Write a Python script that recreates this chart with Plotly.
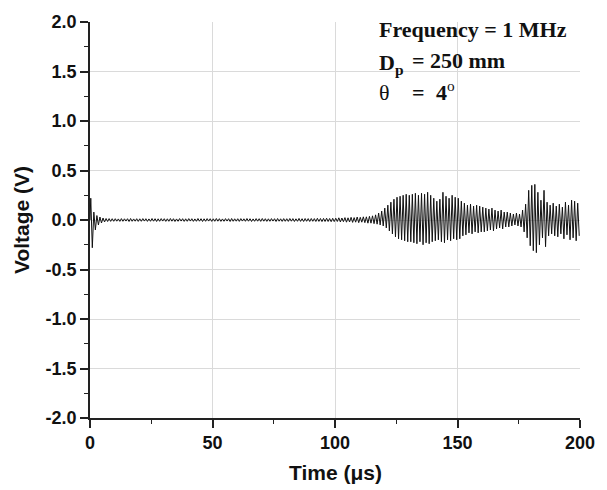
import numpy as np
import plotly.graph_objects as go

# Received ultrasonic signal, recorded as the positive and negative peak of
# each oscillation cycle (8 cycles per 10 us row).
cycle_us = 1.25

pos_peaks = [
    0.22, 0.08, 0.045, 0.030, 0.020, 0.015, 0.014, 0.013,   # 0-10 us
    0.013, 0.011, 0.014, 0.012, 0.013, 0.015, 0.011, 0.013,  # 10-20
    0.012, 0.014, 0.013, 0.011, 0.015, 0.013, 0.012, 0.014,  # 20-30
    0.013, 0.012, 0.015, 0.013, 0.011, 0.014, 0.013, 0.012,  # 30-40
    0.014, 0.013, 0.011, 0.015, 0.013, 0.012, 0.014, 0.013,  # 40-50
    0.012, 0.015, 0.013, 0.011, 0.014, 0.013, 0.015, 0.012,  # 50-60
    0.013, 0.014, 0.012, 0.015, 0.013, 0.011, 0.014, 0.013,  # 60-70
    0.015, 0.013, 0.012, 0.014, 0.013, 0.015, 0.012, 0.014,  # 70-80
    0.013, 0.015, 0.014, 0.012, 0.016, 0.013, 0.015, 0.014,  # 80-90
    0.015, 0.014, 0.017, 0.015, 0.016, 0.018, 0.015, 0.017,  # 90-100
    0.018, 0.022, 0.020, 0.024, 0.022, 0.027, 0.024, 0.030,  # 100-110
    0.027, 0.032, 0.032, 0.037, 0.042, 0.052, 0.070, 0.090,  # 110-120
    0.120, 0.150, 0.180, 0.210, 0.230, 0.240, 0.250, 0.260,  # 120-130
    0.250, 0.260, 0.270, 0.250, 0.270, 0.260, 0.280, 0.250,  # 130-140
    0.220, 0.190, 0.210, 0.280, 0.240, 0.220, 0.250, 0.230,  # 140-150
    0.220, 0.190, 0.170, 0.150, 0.160, 0.140, 0.150, 0.140,  # 150-160
    0.130, 0.120, 0.110, 0.120, 0.100, 0.090, 0.100, 0.080,  # 160-170
    0.080, 0.070, 0.060, 0.070, 0.060, 0.100, 0.160, 0.300,  # 170-180
    0.350, 0.360, 0.280, 0.200, 0.300, 0.180, 0.150, 0.170,  # 180-190
    0.140, 0.160, 0.130, 0.180, 0.150, 0.200, 0.190, 0.170,  # 190-200
]

neg_peaks = [
    -0.28, -0.10, -0.050, -0.030, -0.020, -0.015, -0.014, -0.013,
    -0.012, -0.014, -0.013, -0.011, -0.015, -0.013, -0.012, -0.014,
    -0.013, -0.011, -0.014, -0.013, -0.012, -0.015, -0.013, -0.011,
    -0.014, -0.013, -0.012, -0.015, -0.013, -0.011, -0.014, -0.013,
    -0.011, -0.014, -0.013, -0.012, -0.015, -0.013, -0.011, -0.014,
    -0.013, -0.012, -0.014, -0.013, -0.011, -0.015, -0.013, -0.012,
    -0.014, -0.011, -0.013, -0.012, -0.015, -0.013, -0.012, -0.014,
    -0.012, -0.014, -0.013, -0.011, -0.015, -0.012, -0.014, -0.013,
    -0.014, -0.012, -0.015, -0.013, -0.014, -0.015, -0.013, -0.015,
    -0.013, -0.015, -0.014, -0.016, -0.015, -0.015, -0.017, -0.016,
    -0.015, -0.020, -0.017, -0.022, -0.020, -0.024, -0.022, -0.027,
    -0.022, -0.027, -0.032, -0.032, -0.037, -0.042, -0.050, -0.060,
    -0.080, -0.110, -0.140, -0.170, -0.190, -0.200, -0.210, -0.220,
    -0.220, -0.230, -0.240, -0.220, -0.250, -0.230, -0.240, -0.220,
    -0.210, -0.200, -0.220, -0.230, -0.200, -0.210, -0.190, -0.200,
    -0.190, -0.160, -0.150, -0.130, -0.140, -0.120, -0.130, -0.120,
    -0.120, -0.110, -0.100, -0.110, -0.090, -0.080, -0.090, -0.070,
    -0.070, -0.060, -0.050, -0.060, -0.070, -0.120, -0.180, -0.260,
    -0.310, -0.330, -0.250, -0.180, -0.270, -0.160, -0.140, -0.160,
    -0.170, -0.140, -0.190, -0.150, -0.200, -0.180, -0.210, -0.160,
]

x_ticks = [0, 50, 100, 150, 200]
y_ticks = [-2.0, -1.5, -1.0, -0.5, 0.0, 0.5, 1.0, 1.5, 2.0]

# interleave positive and negative half-cycles on the sampling grid
n = len(pos_peaks)
k = np.arange(n)
t_pos = k * cycle_us + cycle_us * 0.25
t_neg = k * cycle_us + cycle_us * 0.75
time = np.concatenate([[0.0], np.column_stack([t_pos, t_neg]).ravel()])
volt = np.concatenate([[0.0], np.column_stack([pos_peaks, neg_peaks]).ravel()])

fig = go.Figure()
fig.add_trace(go.Scatter(
    x=time, y=volt, mode="lines",
    line=dict(color="#111111", width=1),
    hoverinfo="skip", showlegend=False,
))

tick_font = dict(family="Liberation Sans, Arial, sans-serif", size=18, color="#111111")
title_font = dict(family="Liberation Sans, Arial, sans-serif", size=21, color="#111111")
serif = dict(family="Liberation Serif, Times New Roman, serif", size=22, color="#111111")

fig.update_xaxes(
    range=[0, 200], tickvals=x_ticks, ticktext=[f"<b>{v}</b>" for v in x_ticks],
    showline=True, linecolor="#222222", linewidth=1.5,
    ticks="outside", ticklen=8, tickwidth=1.5, tickcolor="#222222",
    minor=dict(dtick=25, ticks="outside", ticklen=4, tickwidth=1.2, tickcolor="#222222", showgrid=False),
    showgrid=True, gridcolor="#dadada", gridwidth=1, zeroline=False,
    tickfont=tick_font,
)
fig.update_yaxes(
    range=[-2.0, 2.0], tickvals=y_ticks, ticktext=[f"<b>{v:.1f}</b>" for v in y_ticks],
    showline=True, linecolor="#222222", linewidth=1.5,
    ticks="outside", ticklen=8, tickwidth=1.5, tickcolor="#222222",
    minor=dict(dtick=0.25, ticks="outside", ticklen=4, tickwidth=1.2, tickcolor="#222222", showgrid=False),
    showgrid=True, gridcolor="#dadada", gridwidth=1, zeroline=False,
    tickfont=tick_font,
)

annotations = [
    # axis titles
    dict(text="<b>Time (μs)</b>", xref="paper", yref="paper", x=0.5, y=0,
         xanchor="center", yanchor="middle", yshift=-54, showarrow=False, font=title_font),
    dict(text="<b>Voltage (V)</b>", xref="paper", yref="paper", x=0, y=0.5,
         xanchor="center", yanchor="middle", xshift=-69, textangle=-90,
         showarrow=False, font=title_font),
    # measurement conditions
    dict(text="<b>Frequency = 1 MHz</b>", x=117.0, y=1.92, xanchor="left", yanchor="middle",
         showarrow=False, font=serif),
    dict(text="<b>D</b><sub><b>p</b></sub>", x=117.0, y=1.58, xanchor="left", yanchor="middle",
         showarrow=False, font=serif),
    dict(text="<b>= 250 mm</b>", x=130.6, y=1.61, xanchor="left", yanchor="middle",
         showarrow=False, font=serif),
    dict(text="θ", x=117.0, y=1.29, xanchor="left", yanchor="middle",
         showarrow=False, font=serif),
    dict(text="<b>=</b>", x=130.6, y=1.29, xanchor="left", yanchor="middle",
         showarrow=False, font=serif),
    dict(text="<b>4</b><sup>o</sup>", x=140.3, y=1.30, xanchor="left", yanchor="middle",
         showarrow=False, font=serif),
]

fig.update_layout(
    width=607, height=490,
    margin=dict(l=90, r=19, t=16, b=72),
    paper_bgcolor="white", plot_bgcolor="white",
    annotations=annotations,
)

fig.write_html("out.html")
